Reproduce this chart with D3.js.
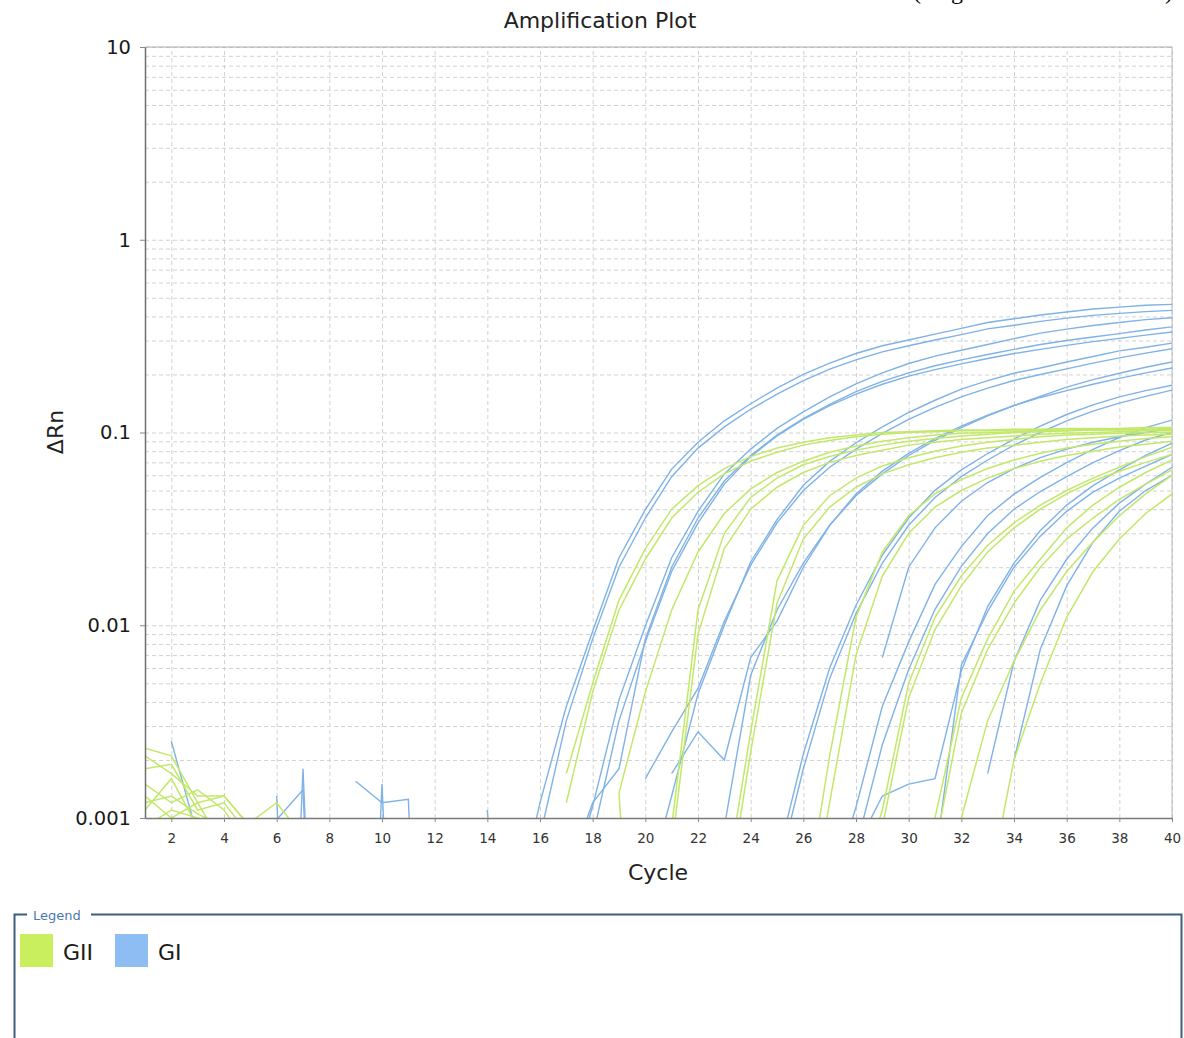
<!DOCTYPE html>
<html>
<head>
<meta charset="utf-8">
<script src="https://cdn.jsdelivr.net/npm/d3@7/dist/d3.min.js"></script>
<style>
  body { margin: 0; background: #fff; }
  svg { display: block; font-family: "DejaVu Sans", "Liberation Sans", Arial, sans-serif; }
  .grid line { stroke: #d2d2d2; stroke-dasharray: 4,3; }
  .grid path { display: none; }
</style>
</head>
<body>
<div id="chart"></div>
<script>
// Tick values and labels
const cycleTicks = [2, 4, 6, 8, 10, 12, 14, 16, 18, 20, 22, 24, 26, 28, 30, 32, 34, 36, 38, 40];
const rnTicks = [0.001, 0.01, 0.1, 1, 10];
const rnTickLabels = ["0.001", "0.01", "0.1", "1", "10"];

// Legend entries
const seriesNames = ["GII", "GI"];

// GI wells: first cycle of each run, then ΔRn per cycle
const giStart = [15, 15, 17, 17, 17, 20, 20, 21, 23, 25, 25, 27, 28, 28, 29, 31, 33, 34,
  2, 6, 6, 6, 9, 9, 14];
const giRuns = [
  [0.0003, 0.0012, 0.0038, 0.0093, 0.0224, 0.0398, 0.0646, 0.089, 0.115, 0.141, 0.17, 0.2, 0.229, 0.257, 0.282, 0.302, 0.324, 0.347, 0.372, 0.389, 0.407, 0.422, 0.437, 0.447, 0.457, 0.462],
  [0.0002, 0.0008, 0.0032, 0.0085, 0.02, 0.036, 0.059, 0.083, 0.107, 0.132, 0.158, 0.186, 0.213, 0.238, 0.262, 0.282, 0.302, 0.322, 0.345, 0.36, 0.377, 0.392, 0.405, 0.415, 0.424, 0.43],
  [0.0004, 0.00115, 0.0041, 0.0099, 0.0224, 0.039, 0.061, 0.082, 0.105, 0.128, 0.153, 0.179, 0.204, 0.228, 0.249, 0.267, 0.286, 0.307, 0.328, 0.344, 0.359, 0.372, 0.385, 0.394],
  [0.0005, 0.0012, 0.0018, 0.0085, 0.02, 0.036, 0.056, 0.076, 0.097, 0.118, 0.14, 0.163, 0.184, 0.204, 0.222, 0.238, 0.254, 0.27, 0.286, 0.3, 0.313, 0.326, 0.34, 0.353],
  [0.0002, 0.0008, 0.0032, 0.0082, 0.019, 0.034, 0.054, 0.075, 0.096, 0.117, 0.138, 0.158, 0.178, 0.196, 0.212, 0.227, 0.242, 0.257, 0.27, 0.283, 0.296, 0.308, 0.32, 0.332],
  [0.0004, 0.0013, 0.0044, 0.01, 0.0213, 0.0353, 0.0532, 0.0708, 0.0885, 0.107, 0.127, 0.147, 0.168, 0.186, 0.203, 0.216, 0.232, 0.248, 0.265, 0.277, 0.291],
  [0.0016, 0.0028, 0.0047, 0.0105, 0.0205, 0.034, 0.05, 0.066, 0.082, 0.099, 0.117, 0.135, 0.153, 0.17, 0.186, 0.2, 0.214, 0.229, 0.244, 0.258, 0.272],
  [0.0017, 0.0028, 0.002, 0.0068, 0.0105, 0.02, 0.033, 0.048, 0.063, 0.078, 0.093, 0.108, 0.123, 0.138, 0.152, 0.165, 0.178, 0.191, 0.204, 0.216],
  [0.0009, 0.0055, 0.012, 0.021, 0.033, 0.047, 0.061, 0.076, 0.091, 0.106, 0.122, 0.138, 0.154, 0.172, 0.188, 0.203, 0.218, 0.232],
  [0.0006, 0.00215, 0.006, 0.0127, 0.0231, 0.036, 0.0501, 0.064, 0.0778, 0.0925, 0.108, 0.124, 0.139, 0.153, 0.165, 0.176],
  [0.0005, 0.0018, 0.0053, 0.0115, 0.021, 0.033, 0.046, 0.059, 0.072, 0.086, 0.1, 0.115, 0.129, 0.142, 0.154, 0.166],
  [0.0004, 0.00114, 0.0038, 0.0082, 0.0163, 0.0256, 0.0371, 0.0479, 0.0585, 0.0697, 0.0817, 0.0942, 0.106, 0.116],
  [0.0007, 0.0024, 0.0059, 0.0121, 0.0202, 0.0299, 0.04, 0.0494, 0.059, 0.0697, 0.0805, 0.0914, 0.1],
  [0.0007, 0.0013, 0.0015, 0.0016, 0.0058, 0.0125, 0.021, 0.031, 0.042, 0.053, 0.064, 0.076, 0.088],
  [0.0068, 0.02, 0.032, 0.044, 0.055, 0.065, 0.074, 0.082, 0.089, 0.095, 0.1, 0.105],
  [0.0006, 0.0062, 0.0118, 0.02, 0.029, 0.039, 0.049, 0.058, 0.067, 0.077],
  [0.0017, 0.0065, 0.0135, 0.022, 0.032, 0.043, 0.054, 0.066],
  [0.002, 0.0075, 0.016, 0.027, 0.039, 0.05, 0.06],
  // baseline noise
  [0.0025, 0.0008],
  [0.0013, 0.000001],
  [0.00098, 0.0014, 0.000001],
  [0.000001, 0.0018, 0.000001],
  [0.00155, 0.0012, 0.00125, 0.000001],
  [0.000001, 0.0015, 0.000001],
  [0.0011, 0.00001]
];

// GII wells
const giiStart = [17, 17, 19, 19, 20, 20, 23, 23, 26, 26, 28, 28, 30, 30, 31, 33,
  1, 1, 1, 1, 1, 1, 1, 1];
const giiRuns = [
  [0.0017, 0.005, 0.0135, 0.025, 0.04, 0.053, 0.065, 0.075, 0.083, 0.089, 0.094, 0.097, 0.1, 0.101, 0.102, 0.103, 0.103, 0.104, 0.104, 0.105, 0.105, 0.105, 0.106, 0.106],
  [0.0012, 0.0045, 0.012, 0.022, 0.036, 0.049, 0.061, 0.071, 0.079, 0.086, 0.091, 0.095, 0.098, 0.1, 0.101, 0.102, 0.102, 0.103, 0.103, 0.103, 0.104, 0.104, 0.104, 0.104],
  [0.00135, 0.0045, 0.012, 0.024, 0.038, 0.051, 0.062, 0.071, 0.079, 0.085, 0.09, 0.094, 0.097, 0.099, 0.1, 0.101, 0.102, 0.102, 0.103, 0.103, 0.103, 0.103],
  [0.00135, 0.00001],
  [0.0002, 0.0009, 0.012, 0.03, 0.046, 0.058, 0.068, 0.075, 0.081, 0.086, 0.09, 0.093, 0.096, 0.098, 0.1, 0.101, 0.102, 0.103, 0.104, 0.104, 0.105],
  [0.0001, 0.0007, 0.009, 0.025, 0.04, 0.052, 0.062, 0.07, 0.076, 0.081, 0.086, 0.089, 0.092, 0.094, 0.096, 0.098, 0.099, 0.1, 0.101, 0.102, 0.102],
  [0.0004, 0.0028, 0.017, 0.033, 0.047, 0.058, 0.067, 0.074, 0.08, 0.085, 0.089, 0.092, 0.095, 0.097, 0.098, 0.099, 0.1, 0.1],
  [0.0003, 0.0022, 0.013, 0.028, 0.041, 0.052, 0.061, 0.068, 0.074, 0.079, 0.083, 0.086, 0.089, 0.092, 0.094, 0.096, 0.097, 0.098],
  [0.0003, 0.0021, 0.011, 0.024, 0.037, 0.048, 0.057, 0.065, 0.072, 0.078, 0.083, 0.087, 0.09, 0.093, 0.095],
  [0.0002, 0.0012, 0.007, 0.018, 0.03, 0.041, 0.05, 0.058, 0.065, 0.071, 0.076, 0.08, 0.084, 0.087, 0.09],
  [0.0004, 0.0011, 0.005, 0.011, 0.018, 0.026, 0.034, 0.042, 0.05, 0.058, 0.066, 0.075, 0.084],
  [0.0002, 0.0009, 0.0042, 0.0095, 0.016, 0.024, 0.032, 0.04, 0.048, 0.056, 0.063, 0.07, 0.077],
  [0.0003, 0.001, 0.0042, 0.0085, 0.015, 0.022, 0.032, 0.042, 0.052, 0.062, 0.072],
  [0.0002, 0.0007, 0.0035, 0.0075, 0.013, 0.02, 0.028, 0.036, 0.045, 0.054, 0.064],
  [0.0003, 0.001, 0.0032, 0.0065, 0.012, 0.019, 0.027, 0.037, 0.048, 0.06],
  [0.0004, 0.002, 0.005, 0.011, 0.019, 0.028, 0.038, 0.048],
  // baseline noise
  [0.0023, 0.0021, 0.0012, 0.0007],
  [0.0021, 0.0017, 0.0013, 0.0013, 0.0009],
  [0.0018, 0.0019, 0.0011, 0.0012, 0.0008],
  [0.0015, 0.0012, 0.0014, 0.0011, 0.0007],
  [0.0013, 0.001, 0.0012, 0.0013, 0.0009],
  [0.0011, 0.0016, 0.0009, 0.0006],
  [0.0009, 0.0011, 0.001, 0.0009, 0.00095, 0.0012, 0.0008],
  [0.0012, 0.0013, 0.00105, 0.0009]
];

const width = 1184, height = 1038;
const margin = {top: 47, right: 12, bottom: 220, left: 145};
const plotW = width - margin.left - margin.right;
const plotH = height - margin.top - margin.bottom;

const svg = d3.select("#chart").append("svg")
  .attr("width", width)
  .attr("height", height);

svg.append("rect").attr("width", width).attr("height", height).attr("fill", "#fff");

// caption that runs off the top of the page
svg.append("text")
  .attr("x", 913).attr("y", -1)
  .attr("font-family", "Liberation Serif, serif")
  .attr("font-size", 24)
  .attr("textLength", 260)
  .text("(Figure 2 continued)");

const g = svg.append("g").attr("transform", `translate(${margin.left},${margin.top})`);

const x = d3.scaleLinear().domain([1, 40]).range([0, plotW]);
const y = d3.scaleLog().domain([0.001, 10]).range([plotH, 0]);

// grid
g.append("g").attr("class", "grid")
  .call(d3.axisLeft(y).tickSize(-plotW).tickFormat(""));
g.append("g").attr("class", "grid")
  .attr("transform", `translate(0,${plotH})`)
  .call(d3.axisBottom(x).tickValues(cycleTicks).tickSize(-plotH).tickFormat(""));

// frame
g.append("line").attr("x1", 0).attr("x2", plotW).attr("y1", 0).attr("y2", 0).attr("stroke", "#a8a8a8");
g.append("line").attr("x1", plotW).attr("x2", plotW).attr("y1", 0).attr("y2", plotH).attr("stroke", "#b8b8b8");

// curves
g.append("clipPath").attr("id", "plotclip")
  .append("rect").attr("width", plotW).attr("height", plotH);

const line = d3.line()
  .x(d => x(d.c))
  .y(d => y(d.v));

function toPoints(start, run) {
  return run.map((v, i) => ({c: start + i, v: v}));
}

const curves = g.append("g").attr("clip-path", "url(#plotclip)");

curves.selectAll(".gi")
  .data(giRuns.map((r, i) => toPoints(giStart[i], r)))
  .enter().append("path")
  .attr("class", "gi")
  .attr("d", line)
  .attr("fill", "none")
  .attr("stroke", "#7fb2e6")
  .attr("stroke-width", 1.4);

curves.selectAll(".gii")
  .data(giiRuns.map((r, i) => toPoints(giiStart[i], r)))
  .enter().append("path")
  .attr("class", "gii")
  .attr("d", line)
  .attr("fill", "none")
  .attr("stroke", "#c2e86a")
  .attr("stroke-width", 1.5);

// axes
const xAxis = g.append("g")
  .attr("transform", `translate(0,${plotH})`)
  .call(d3.axisBottom(x).tickValues(cycleTicks).tickSize(4).tickSizeOuter(0).tickPadding(11));
xAxis.select(".domain").attr("stroke", "#7a7a7a").attr("stroke-width", 1.5);
xAxis.selectAll(".tick line").attr("stroke", "#888");
xAxis.selectAll("text").attr("font-size", 13.5).attr("fill", "#333")
  .attr("font-family", "DejaVu Sans, sans-serif");

const yAxis = g.append("g")
  .call(d3.axisLeft(y).tickValues(rnTicks).tickFormat((d, i) => rnTickLabels[i])
    .tickSize(5).tickSizeOuter(0).tickPadding(9));
yAxis.select(".domain").attr("stroke", "#6e6e6e").attr("stroke-width", 1.5);
yAxis.selectAll(".tick line").attr("stroke", "#888");
yAxis.selectAll("text").attr("font-size", 19.5).attr("fill", "#1a1a1a")
  .attr("font-family", "DejaVu Sans, sans-serif");

// titles
svg.append("text")
  .attr("x", 600).attr("y", 28)
  .attr("text-anchor", "middle")
  .attr("font-size", 22).attr("fill", "#222")
  .text("Amplification Plot");

svg.append("text")
  .attr("x", 658).attr("y", 880)
  .attr("text-anchor", "middle")
  .attr("font-size", 22).attr("fill", "#222")
  .text("Cycle");

svg.append("text")
  .attr("transform", "translate(63,432) rotate(-90)")
  .attr("text-anchor", "middle")
  .attr("font-size", 22).attr("fill", "#222")
  .text("ΔRn");

// legend
const legend = svg.append("g");
legend.append("rect")
  .attr("x", 14.5).attr("y", 914.5)
  .attr("width", 1167).attr("height", 200)
  .attr("fill", "none")
  .attr("stroke", "#3f5d7d")
  .attr("stroke-width", 2);
legend.append("rect")
  .attr("x", 27).attr("y", 906)
  .attr("width", 64).attr("height", 16)
  .attr("fill", "#fff");
legend.append("text")
  .attr("x", 33).attr("y", 920)
  .attr("font-size", 13).attr("fill", "#4d79b2")
  .text("Legend");

const swatchColors = ["#c9ee5e", "#8dbdf2"];
seriesNames.forEach((name, i) => {
  const lx = 20 + i * 95;
  legend.append("rect")
    .attr("x", lx).attr("y", 934)
    .attr("width", 33).attr("height", 33)
    .attr("fill", swatchColors[i]);
  legend.append("text")
    .attr("x", lx + 43).attr("y", 960)
    .attr("font-size", 22).attr("fill", "#1a1a1a")
    .text(name);
});
</script>
</body>
</html>
